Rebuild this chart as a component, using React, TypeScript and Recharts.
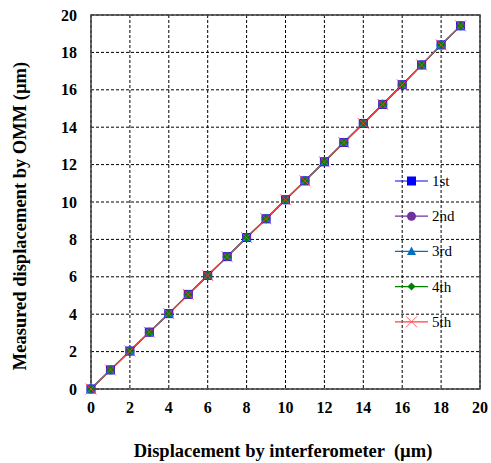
import React from "react";
import {
  CartesianGrid,
  Label,
  Line,
  LineChart,
  ReferenceArea,
  XAxis,
  YAxis,
} from "recharts";

// interferometer displacement (µm)
const interferometer = [0, 1, 2, 3, 4, 5, 6, 7, 8, 9, 10, 11, 12, 13, 14, 15, 16, 17, 18, 19];

// OMM readings, five runs
const run1 = [0, 1.02, 2.03, 3.04, 4.03, 5.06, 6.07, 7.08, 8.1, 9.1, 10.12, 11.13, 12.15, 13.18, 14.2, 15.22, 16.27, 17.33, 18.4, 19.42];
const run2 = [0, 1.02, 2.03, 3.04, 4.04, 5.06, 6.07, 7.08, 8.1, 9.1, 10.12, 11.13, 12.15, 13.18, 14.2, 15.23, 16.27, 17.33, 18.4, 19.42];
const run3 = [0, 1.02, 2.03, 3.04, 4.03, 5.06, 6.06, 7.08, 8.1, 9.1, 10.12, 11.14, 12.15, 13.18, 14.21, 15.22, 16.27, 17.33, 18.4, 19.41];
const run4 = [0, 1.02, 2.03, 3.04, 4.03, 5.06, 6.07, 7.08, 8.1, 9.1, 10.12, 11.13, 12.15, 13.18, 14.2, 15.22, 16.27, 17.33, 18.4, 19.42];
const run5 = [0, 1.02, 2.03, 3.04, 4.03, 5.06, 6.07, 7.08, 8.1, 9.1, 10.12, 11.13, 12.15, 13.18, 14.2, 15.22, 16.27, 17.33, 18.4, 19.42];

const ticks = [0, 2, 4, 6, 8, 10, 12, 14, 16, 18, 20];

const series = [
  { key: "r1", name: "1st", color: "#0000ff", shape: "square" },
  { key: "r2", name: "2nd", color: "#7030a0", shape: "circle" },
  { key: "r3", name: "3rd", color: "#0070c0", shape: "triangle" },
  { key: "r4", name: "4th", color: "#008000", shape: "diamond" },
  { key: "r5", name: "5th", color: "#ff4040", shape: "cross" },
];

const data = interferometer.map((x, i) => ({
  x,
  r1: run1[i],
  r2: run2[i],
  r3: run3[i],
  r4: run4[i],
  r5: run5[i],
}));

const FONT = "'Liberation Serif', 'Times New Roman', serif";

function Marker({ cx, cy, shape, color }: any) {
  if (cx == null || cy == null) return null;
  switch (shape) {
    case "square":
      return <rect x={cx - 4.5} y={cy - 4.5} width={9} height={9} fill={color} />;
    case "circle":
      return <circle cx={cx} cy={cy} r={4.5} fill={color} />;
    case "triangle":
      return (
        <polygon
          points={`${cx},${cy - 5} ${cx - 4.5},${cy + 3.5} ${cx + 4.5},${cy + 3.5}`}
          fill={color}
        />
      );
    case "diamond":
      return (
        <polygon
          points={`${cx},${cy - 4} ${cx + 4},${cy} ${cx},${cy + 4} ${cx - 4},${cy}`}
          fill={color}
        />
      );
    default:
      return (
        <g stroke={color} strokeWidth={1} opacity={0.8}>
          <line x1={cx - 5.5} y1={cy - 5.5} x2={cx + 5.5} y2={cy + 5.5} />
          <line x1={cx - 5.5} y1={cy + 5.5} x2={cx + 5.5} y2={cy - 5.5} />
        </g>
      );
  }
}

function LegendBox() {
  return (
    <svg width={90} height={180} style={{ display: "block" }}>
      {series.map((s, i) => {
        const y = 9 + i * 35.2;
        return (
          <g key={s.key}>
            <line x1={0} y1={y} x2={33} y2={y} stroke={s.color} strokeWidth={1.2} />
            <Marker cx={16.5} cy={y} shape={s.shape} color={s.color} />
            <text x={37} y={y + 5} style={{ fontFamily: FONT, fontSize: 15 }} fill="#000">
              {s.name}
            </text>
          </g>
        );
      })}
    </svg>
  );
}

function XTick({ x, y, payload }: any) {
  return (
    <text
      x={x}
      y={y + 24}
      textAnchor="middle"
      fill="#000"
      style={{ fontFamily: FONT, fontSize: 16, fontWeight: 700 }}
    >
      {payload.value}
    </text>
  );
}

function YTick({ x, y, payload }: any) {
  return (
    <text
      x={x + 4}
      y={y + 5.5}
      textAnchor="end"
      fill="#000"
      style={{ fontFamily: FONT, fontSize: 16, fontWeight: 700 }}
    >
      {payload.value}
    </text>
  );
}

export default function App() {
  return (
    <div style={{ position: "absolute", left: 0, top: 0, width: 491, height: 463, background: "#fff" }}>
      <LineChart
        width={491}
        height={463}
        data={data}
        margin={{ top: 15, right: 11, bottom: 0, left: 0 }}
      >
        <CartesianGrid stroke="#000" strokeDasharray="3 2" strokeWidth={1} />
        <XAxis
          dataKey="x"
          type="number"
          domain={[0, 20]}
          ticks={ticks}
          tickLine={false}
          axisLine={false}
          tickSize={0}
          tickMargin={0}
          height={74}
          tick={<XTick />}
          interval={0}
        >
          <Label
            content={() => (
              <text
                x={283}
                y={457}
                textAnchor="middle"
                fill="#000"
                style={{ fontFamily: FONT, fontSize: 18.5, fontWeight: 700, whiteSpace: "pre" }}
              >
                Displacement by interferometer  (µm)
              </text>
            )}
          />
        </XAxis>
        <YAxis
          type="number"
          domain={[0, 20]}
          ticks={ticks}
          tickLine={false}
          axisLine={false}
          tickSize={0}
          tickMargin={18}
          width={91}
          tick={<YTick />}
          interval={0}
        >
          <Label
            content={() => (
              <text
                x={26}
                y={216}
                transform="rotate(-90 26 216)"
                textAnchor="middle"
                fill="#000"
                style={{ fontFamily: FONT, fontSize: 18.5, fontWeight: 700 }}
              >
                Measured displacement by OMM (µm)
              </text>
            )}
          />
        </YAxis>
        <ReferenceArea
          x1={0}
          x2={20}
          y1={0}
          y2={20}
          fill="none"
          fillOpacity={0}
          stroke="#404040"
          strokeWidth={1.5}
        />
        {series.map((s) => (
          <Line
            key={s.key}
            dataKey={s.key}
            name={s.name}
            type="linear"
            stroke={s.color}
            strokeWidth={1.2}
            isAnimationActive={false}
            dot={(p: any) => (
              <Marker key={`${s.key}-${p.index}`} cx={p.cx} cy={p.cy} shape={s.shape} color={s.color} />
            )}
            activeDot={false}
          />
        ))}
      </LineChart>
      <div style={{ position: "absolute", left: 395, top: 172 }}>
        <LegendBox />
      </div>
    </div>
  );
}
